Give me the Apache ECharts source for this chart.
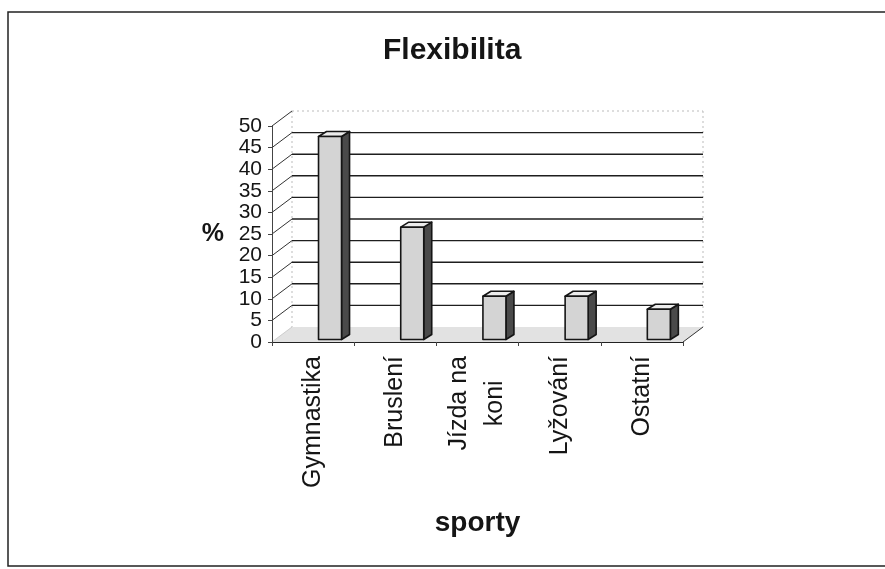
<!DOCTYPE html>
<html>
<head>
<meta charset="utf-8">
<script src="https://cdn.jsdelivr.net/npm/echarts@6/dist/echarts.min.js"></script>
<style>
html,body{margin:0;padding:0;background:#fff;}
#chart{width:885px;height:569px;}
</style>
</head>
<body>
<div id="chart"></div>
<script>
// ---- data ----
const categories = ['Gymnastika', 'Bruslení', 'Jízda na\nkoni', 'Lyžování', 'Ostatní'];
const values = [47, 26, 10, 10, 7];
const yTicks = [0, 5, 10, 15, 20, 25, 30, 35, 40, 45, 50];
const titleText = 'Flexibilita';
const xName = 'sporty';
const yName = '%';

// ---- style constants ----
const FONT = 'Liberation Sans, Arial, Helvetica, sans-serif';
const DX = 20, DY = -15;       // depth of the 3D floor / walls
const BDX = 8, BDY = -5;       // depth of each 3D bar
const INK = '#151515';

const chart = echarts.init(document.getElementById('chart'), null, {renderer: 'canvas'});

function floorItem(params, api) {
  const cs = params.coordSys;
  const L = cs.x, R = cs.x + cs.width;
  const y0 = api.coord([0, 0])[1];
  const yT = api.coord([0, 50])[1];
  return {
    type: 'group',
    children: [
      {type: 'polygon', shape: {points: [[L, y0], [R, y0], [R + DX, y0 + DY], [L + DX, y0 + DY]]},
       style: {fill: '#e2e2e2', stroke: null}},
      {type: 'line', shape: {x1: R, y1: y0, x2: R + DX, y2: y0 + DY}, style: {stroke: '#333', lineWidth: 1}},
      {type: 'line', shape: {x1: L + DX, y1: yT + DY, x2: L + DX, y2: y0 + DY}, style: {stroke: '#bbb', lineWidth: 1, lineDash: [2, 3]}},
      {type: 'line', shape: {x1: R + DX, y1: yT + DY, x2: R + DX, y2: y0 + DY}, style: {stroke: '#bbb', lineWidth: 1, lineDash: [2, 3]}}
    ]
  };
}

function wallItem(params, api) {
  const cs = params.coordSys;
  const L = cs.x, R = cs.x + cs.width;
  const v = api.value(1);
  const y = api.coord([0, v])[1];
  const children = [];
  if (v > 0 && v < 50) {
    children.push({type: 'line', shape: {x1: L + DX, y1: y + DY, x2: R + DX, y2: y + DY}, style: {stroke: '#1e1e1e', lineWidth: 1.4}});
  } else if (v === 50) {
    children.push({type: 'line', shape: {x1: L + DX, y1: y + DY, x2: R + DX, y2: y + DY}, style: {stroke: '#bbb', lineWidth: 1, lineDash: [2, 3]}});
  }
  children.push({type: 'line', shape: {x1: L, y1: y, x2: L + DX, y2: y + DY},
    style: {stroke: v > 0 ? '#333' : '#ccc', lineWidth: 1}});
  return {type: 'group', children: children};
}

function barItem(params, api) {
  const i = api.value(0), v = api.value(1);
  const c0 = api.coord([i, 0]);
  const c1 = api.coord([i, v]);
  const band = api.size([1, 0])[0];
  const w = band * 0.28;
  const x0 = c0[0] + band * 0.206 - w / 2;
  const x1 = x0 + w;
  const yb = c0[1] - 2.5;
  const yt = c1[1] - 2.5;
  const st = {stroke: INK, lineWidth: 1.6, lineJoin: 'round'};
  return {
    type: 'group',
    children: [
      {type: 'polygon', shape: {points: [[x1, yt], [x1 + BDX, yt + BDY], [x1 + BDX, yb + BDY], [x1, yb]]},
       style: Object.assign({fill: '#4a4a4a'}, st)},
      {type: 'polygon', shape: {points: [[x0, yt], [x1, yt], [x1 + BDX, yt + BDY], [x0 + BDX, yt + BDY]]},
       style: Object.assign({fill: '#ececec'}, st)},
      {type: 'rect', shape: {x: x0, y: yt, width: w, height: yb - yt},
       style: Object.assign({fill: '#d4d4d4'}, st)}
    ]
  };
}

const option = {
  backgroundColor: '#fff',
  animation: false,
  title: {
    text: titleText,
    left: 378,
    top: 31,
    textStyle: {fontFamily: FONT, fontSize: 30, fontWeight: 'bold', color: INK}
  },
  graphic: [
    {type: 'rect', shape: {x: 8, y: 12, width: 900, height: 554}, style: {fill: null, stroke: '#222', lineWidth: 1.5}, silent: true, z: 100}
  ],
  grid: {left: 272, right: 202, top: 126, bottom: 227},
  xAxis: {
    type: 'category',
    data: categories,
    boundaryGap: true,
    z: 10,
    axisLine: {lineStyle: {color: '#222', width: 1.2}},
    axisTick: {show: true, length: 4, lineStyle: {color: '#444'}},
    axisLabel: {
      rotate: 90,
      margin: 14,
      interval: 0,
      color: INK,
      fontFamily: FONT,
      fontSize: 25,
      formatter: function (val) {
        return val.split('\n').map(function (s) { return '{c|' + s + '}'; }).join('\n');
      },
      rich: {c: {align: 'center', fontFamily: FONT, fontSize: 25, lineHeight: 36, color: INK}}
    },
    name: xName,
    nameLocation: 'middle',
    nameGap: 167,
    nameTextStyle: {fontFamily: FONT, fontSize: 28, fontWeight: 'bold', color: INK}
  },
  yAxis: {
    type: 'value',
    min: 0, max: 50, interval: 5,
    z: 10,
    axisLine: {show: true, lineStyle: {color: '#444', width: 1}},
    axisTick: {show: true, length: 4, lineStyle: {color: '#444'}},
    splitLine: {show: false},
    axisLabel: {margin: 10, color: INK, fontFamily: FONT, fontSize: 21, lineHeight: 18,
                showMinLabel: true, showMaxLabel: true, hideOverlap: false},
    name: yName,
    nameLocation: 'middle',
    nameRotate: 0,
    nameGap: 48,
    nameTextStyle: {fontFamily: FONT, fontSize: 25, fontWeight: 'bold', color: INK}
  },
  series: [
    {type: 'custom', silent: true, z: 1, renderItem: floorItem, data: [[0, 0]]},
    {type: 'custom', silent: true, z: 2, renderItem: wallItem, data: yTicks.map(function (v) { return [0, v]; })},
    {type: 'custom', silent: true, z: 5, renderItem: barItem, data: values.map(function (v, i) { return [i, v]; })}
  ]
};
chart.setOption(option);
</script>
</body>
</html>
